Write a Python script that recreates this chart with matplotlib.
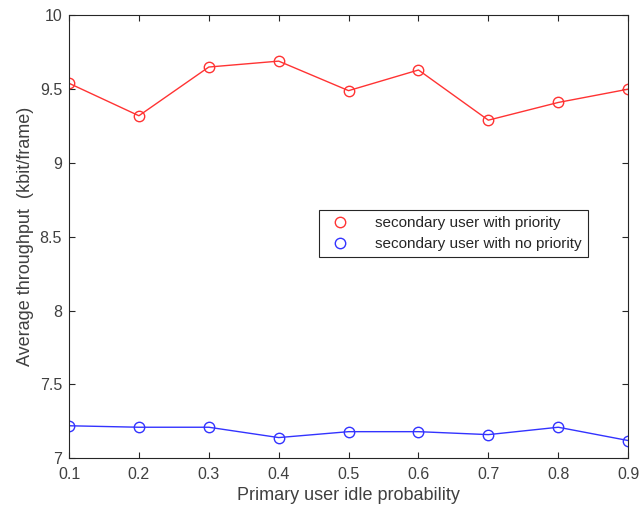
import matplotlib.pyplot as plt

plt.rcParams['font.family'] = ['Liberation Sans', 'DejaVu Sans']

# idle probability of the primary user
idle_prob = [0.1, 0.2, 0.3, 0.4, 0.5, 0.6, 0.7, 0.8, 0.9]

# average throughput (kbit/frame)
with_priority = [9.54, 9.32, 9.65, 9.69, 9.49, 9.63, 9.29, 9.41, 9.50]
no_priority = [7.22, 7.21, 7.21, 7.14, 7.18, 7.18, 7.16, 7.21, 7.12]

fig = plt.figure(figsize=(6.39, 5.12), dpi=100)
ax = fig.add_axes([0.108, 0.105, 0.875, 0.865])

ax.plot(idle_prob, with_priority, '-', color='#ff3333', lw=1.0)
ax.plot(idle_prob, with_priority, 'o', color='#ff3333', mfc='none', ms=7.5, mew=1.0,
        label='secondary user with priority')
ax.plot(idle_prob, no_priority, '-', color='#3333ff', lw=1.0)
ax.plot(idle_prob, no_priority, 'o', color='#3333ff', mfc='none', ms=7.5, mew=1.0,
        label='secondary user with no priority')

ax.set_xlim(0.1, 0.9)
ax.set_ylim(7, 10)
ax.set_xticks(idle_prob)
ax.set_xticklabels(['0.1', '0.2', '0.3', '0.4', '0.5', '0.6', '0.7', '0.8', '0.9'])
ax.set_yticks([7, 7.5, 8, 8.5, 9, 9.5, 10])
ax.set_yticklabels(['7', '7.5', '8', '8.5', '9', '9.5', '10'])

ax.tick_params(direction='in', top=True, right=True, length=4, width=0.8,
               labelsize=11.5, labelcolor='#404040', color='#262626')
ax.tick_params(axis='x', pad=6)
ax.tick_params(axis='y', pad=5)
for s in ax.spines.values():
    s.set_color('#262626')
    s.set_linewidth(0.8)

ax.set_xlabel('Primary user idle probability', fontsize=13, color='#404040', labelpad=4)
ax.set_ylabel('Average throughput  (kbit/frame)', fontsize=13, color='#404040', labelpad=4)

leg = ax.legend(loc='upper left', bbox_to_anchor=(0.447, 0.560), fontsize=11,
                frameon=True, fancybox=False, edgecolor='#262626', framealpha=1,
                handlelength=2.0, handletextpad=1.3, borderpad=0.4, labelspacing=0.45,
                borderaxespad=0)
leg.get_frame().set_linewidth(0.8)
for t in leg.get_texts():
    t.set_color('#262626')

fig.savefig('out.png', dpi=100)
